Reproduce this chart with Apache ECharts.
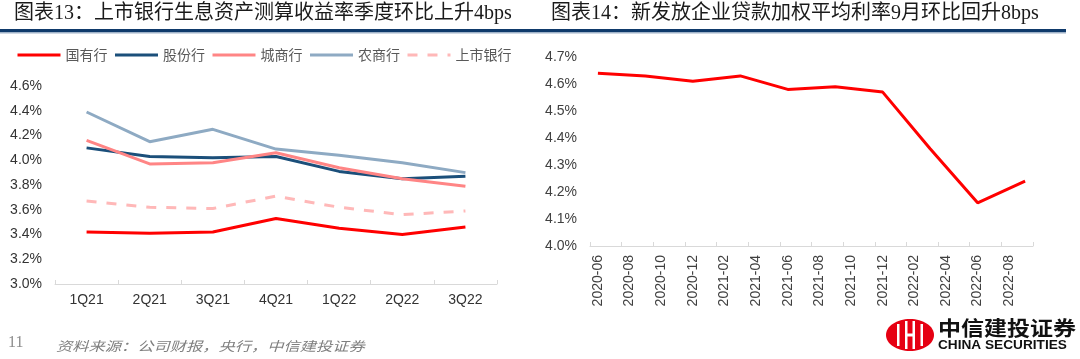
<!DOCTYPE html>
<html>
<head>
<meta charset="utf-8">
<script src="https://cdn.jsdelivr.net/npm/echarts@6/dist/echarts.min.js"></script>
<style>
html,body{margin:0;padding:0;background:#fff;}
#c{width:1080px;height:359px;}
</style>
</head>
<body>
<div id="c"></div>
<script>
// ---- Left chart data ----
const quarters = ['1Q21','2Q21','3Q21','4Q21','1Q22','2Q22','3Q22'];
const stateOwned = [3.42, 3.41, 3.42, 3.53, 3.45, 3.40, 3.46];   // 国有行
const jointStock = [4.10, 4.03, 4.02, 4.03, 3.91, 3.85, 3.87];   // 股份行
const cityComm   = [4.16, 3.97, 3.98, 4.06, 3.94, 3.85, 3.79];   // 城商行
const ruralComm  = [4.39, 4.15, 4.25, 4.09, 4.04, 3.98, 3.90];   // 农商行
const listedAll  = [3.67, 3.62, 3.61, 3.71, 3.62, 3.56, 3.59];   // 上市银行

// ---- Right chart data ----
const months = ['2020-06','2020-07','2020-08','2020-09','2020-10','2020-11','2020-12',
  '2021-01','2021-02','2021-03','2021-04','2021-05','2021-06','2021-07','2021-08','2021-09',
  '2021-10','2021-11','2021-12','2022-01','2022-02','2022-03','2022-04','2022-05','2022-06',
  '2022-07','2022-08','2022-09'];
const loanRateMonths = ['2020-06','2020-09','2020-12','2021-03','2021-06','2021-09','2021-12','2022-03','2022-06','2022-09'];
const loanRateValues = [4.64, 4.63, 4.61, 4.63, 4.58, 4.59, 4.57, 4.36, 4.16, 4.24];

const leftYTicks = {min: 3.0, max: 4.6, interval: 0.2};
const rightYTicks = {min: 4.0, max: 4.7, interval: 0.1};

const loanSeries = months.map(m => {
  const i = loanRateMonths.indexOf(m);
  return i >= 0 ? loanRateValues[i] : null;
});

const latin = '"Liberation Sans", Arial, "Noto Sans CJK SC", sans-serif';
const titleFont = '"Liberation Serif", "Noto Sans CJK SC", serif';
const cjk = '"Noto Sans CJK SC", sans-serif';

const chart = echarts.init(document.getElementById('c'), null, {renderer: 'canvas'});

function lineSeries(name, data, color, dashed) {
  return {
    name: name, type: 'line', data: data, xAxisIndex: 0, yAxisIndex: 0,
    symbol: 'none', smooth: false,
    lineStyle: {color: color, width: 3, type: dashed ? [10, 10] : 'solid'},
    itemStyle: {color: color},
    emphasis: {disabled: true}
  };
}

const axisLineStyle = {lineStyle: {color: '#d9d9d9', width: 1}};

chart.setOption({
  animation: false,
  backgroundColor: '#fff',
  legend: {
    left: 11, top: 43,
    itemWidth: 43, itemHeight: 14, itemGap: 6,
    itemStyle: {opacity: 0},
    lineStyle: {width: 3},
    textStyle: {fontFamily: cjk, fontSize: 14, color: '#595959'},
    data: ['国有行','股份行','城商行','农商行','上市银行']
  },
  grid: [
    {left: 55, right: 583, top: 86, bottom: 75, containLabel: false},
    {left: 590, right: 47, top: 57, bottom: 113, containLabel: false}
  ],
  xAxis: [
    {
      type: 'category', gridIndex: 0, data: quarters, boundaryGap: true,
      axisLine: axisLineStyle,
      axisTick: {show: true, inside: true, length: 4, lineStyle: {color: '#d9d9d9'}},
      axisLabel: {fontFamily: latin, fontSize: 14, color: '#333', margin: 9}
    },
    {
      type: 'category', gridIndex: 1, data: months, boundaryGap: true,
      axisLine: axisLineStyle,
      axisTick: {show: true, inside: true, length: 4, interval: 1, lineStyle: {color: '#d9d9d9'}},
      axisLabel: {fontFamily: latin, fontSize: 14, color: '#404040', margin: 9, rotate: 90, interval: 1}
    }
  ],
  yAxis: [
    {
      type: 'value', gridIndex: 0, min: leftYTicks.min, max: leftYTicks.max, interval: leftYTicks.interval,
      axisLine: {show: false}, axisTick: {show: false}, splitLine: {show: false},
      axisLabel: {fontFamily: latin, fontSize: 14, color: '#333', margin: 13,
        formatter: v => v.toFixed(1) + '%'}
    },
    {
      type: 'value', gridIndex: 1, min: rightYTicks.min, max: rightYTicks.max, interval: rightYTicks.interval,
      axisLine: {show: false}, axisTick: {show: false}, splitLine: {show: false},
      axisLabel: {fontFamily: latin, fontSize: 14, color: '#404040', margin: 13,
        formatter: v => v.toFixed(1) + '%'}
    }
  ],
  series: [
    lineSeries('国有行', stateOwned, '#ff0000', false),
    lineSeries('股份行', jointStock, '#1b4f7a', false),
    lineSeries('城商行', cityComm, '#ff8585', false),
    lineSeries('农商行', ruralComm, '#8eaac3', false),
    lineSeries('上市银行', listedAll, '#ffb8b8', true),
    {
      name: '新发放企业贷款加权平均利率', type: 'line', data: loanSeries,
      xAxisIndex: 1, yAxisIndex: 1, connectNulls: true, symbol: 'none',
      lineStyle: {color: '#ff0000', width: 3}, emphasis: {disabled: true}
    }
  ],
  graphic: [
    {type: 'text', left: 14, top: 4, style: {text: '图表13：上市银行生息资产测算收益率季度环比上升4bps',
      font: 'normal 20px ' + titleFont, fill: '#1a1a1a'}},
    {type: 'text', left: 551, top: 4, style: {text: '图表14：新发放企业贷款加权平均利率9月环比回升8bps',
      font: 'normal 20px ' + titleFont, fill: '#1a1a1a'}},
    {type: 'rect', shape: {x: 0, y: 29, width: 1066, height: 3}, style: {fill: '#0f3a6b'}},
    {type: 'rect', shape: {x: 0, y: 32, width: 1066, height: 1.5}, style: {fill: '#9fb2c8'}},
    {type: 'text', left: 8, top: 335, style: {text: '11', font: 'normal 16px "Liberation Serif", serif', fill: '#8c8c8c'}},
    {type: 'text', x: 56, y: 340, scaleX: 1.25, style: {text: '资料来源：公司财报，央行，中信建投证券',
      font: 'italic 13px ' + cjk, fill: '#7f7f7f'}},
    // logo mark
    {type: 'group', x: 910, y: 335, children: [
      {type: 'ellipse', shape: {cx: 0, cy: 0, rx: 24, ry: 16}, style: {fill: '#e60012'}},
      {type: 'rect', shape: {x: -13, y: -11, width: 2.5, height: 22}, style: {fill: '#fff'}},
      {type: 'rect', shape: {x: -5, y: -14, width: 2.5, height: 28}, style: {fill: '#fff'}},
      {type: 'rect', shape: {x: 2.5, y: -14, width: 2.5, height: 28}, style: {fill: '#fff'}},
      {type: 'rect', shape: {x: 10.5, y: -11, width: 2.5, height: 22}, style: {fill: '#fff'}},
      {type: 'rect', shape: {x: -5, y: -1.5, width: 10, height: 3}, style: {fill: '#fff'}}
    ]},
    {type: 'text', x: 938, y: 318, scaleX: 1.15, style: {text: '中信建投证券',
      font: 'bold 20px ' + cjk, fill: '#111'}},
    {type: 'text', x: 938, y: 339, scaleX: 1.05, style: {text: 'CHINA SECURITIES',
      font: 'bold 13px "Liberation Sans", Arial, sans-serif', fill: '#111'}}
  ]
});
</script>
</body>
</html>
